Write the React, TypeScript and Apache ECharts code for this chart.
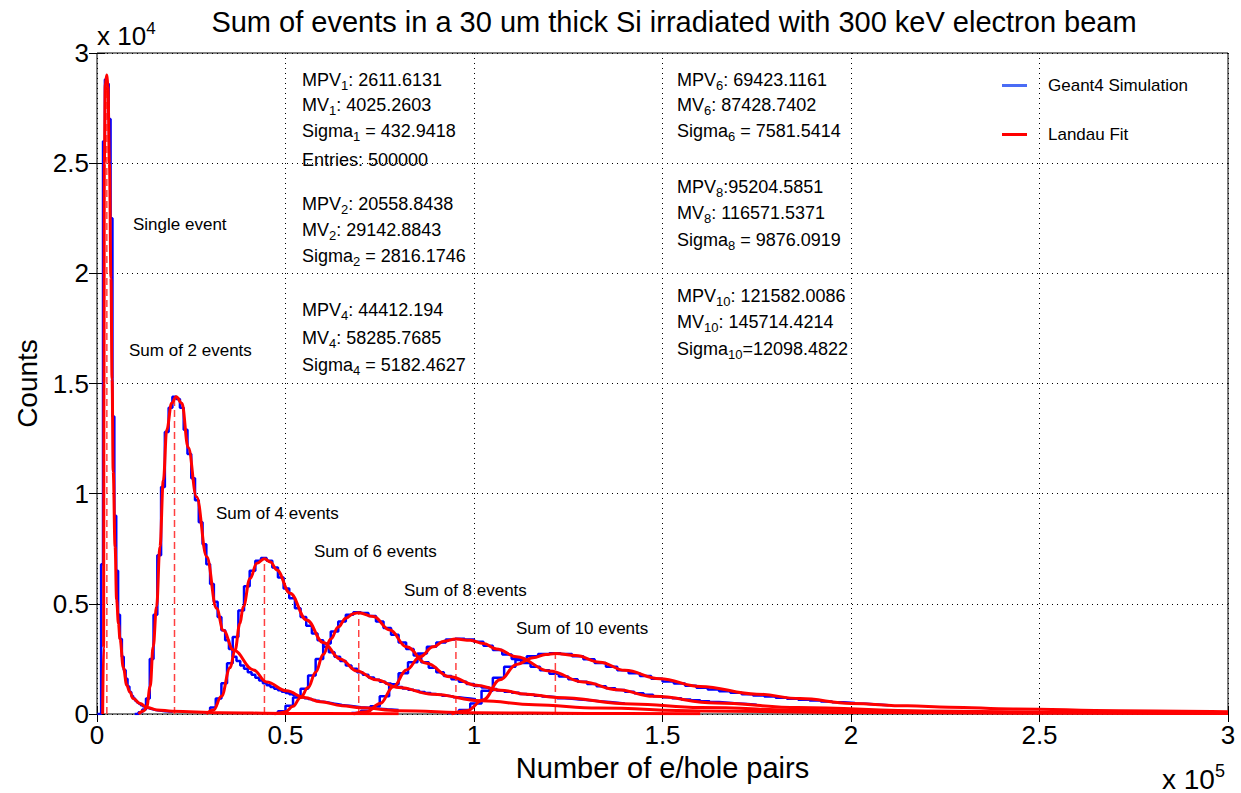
import React, { useEffect, useRef } from "react";
import * as echarts from "echarts";

// ---------- Tick labels ----------
const xTicks = ["0", "0.5", "1", "1.5", "2", "2.5", "3"];
const yTicks = ["0", "0.5", "1", "1.5", "2", "2.5", "3"];

// ---------- Landau fits (x = e/hole pairs, y = counts) ----------
const fit1: [number, number][] = [
  [1500, 0], [1750, 3000], [1850, 15000], [1950, 25000], [2200, 28600], [2611, 29000],
  [2900, 28500], [3300, 25000], [3700, 19800], [4000, 15200], [4300, 11000], [4800, 7600],
  [5200, 5200], [5700, 4100], [6100, 3400], [7000, 2100], [7900, 1300], [8700, 1000], [9600, 700],
  [11400, 480], [13200, 300], [16000, 180], [20000, 130], [32600, 60], [50000, 25], [80000, 8],
];
const fit2: [number, number][] = [
  [11000, 0], [12500, 150], [13200, 330], [14100, 1240], [14900, 3050], [15800, 4870], [16700, 7600],
  [17600, 10600], [18500, 12900], [19800, 14100], [21000, 14400], [22500, 14100], [24200, 12100],
  [26400, 9860], [29100, 7140], [31700, 4800], [33500, 3800], [36200, 2900], [41500, 2000],
  [45000, 1450], [50300, 1050], [55000, 750], [59200, 560], [65000, 380], [70000, 280], [80000, 150],
  [100000, 60], [130000, 20], [160000, 8],
];
const fit4: [number, number][] = [
  [29000, 0], [30900, 180], [33000, 800], [35300, 2100], [36600, 2900], [37900, 4100], [38800, 4870],
  [40600, 6150], [42400, 6840], [44400, 7050], [46000, 6900], [47700, 6540], [51200, 5480],
  [55600, 4270], [60000, 3250], [64500, 2500], [69000, 1950], [74000, 1550], [80000, 1200],
  [89000, 900], [102000, 600], [116000, 420], [133000, 270], [160000, 140], [200000, 70],
  [250000, 35], [300000, 20],
];
const fit6: [number, number][] = [
  [47000, 0], [48500, 50], [50000, 100], [52000, 350], [54000, 750], [56000, 1200], [58000, 1900],
  [60000, 2700], [62000, 3400], [64000, 3950], [66000, 4350], [68000, 4550], [69400, 4600],
  [73300, 4420], [77700, 3810], [82100, 3050], [87400, 2300], [93600, 1690], [100700, 1300],
  [107000, 1080], [114000, 900], [122000, 750], [142000, 450], [160000, 290], [190000, 160],
  [230000, 80], [300000, 35],
];
const fit8: [number, number][] = [
  [68000, 0], [71500, 100], [75100, 480], [78600, 1240], [82100, 2000], [85700, 2600], [89200, 3050],
  [92000, 3300], [95200, 3400], [99000, 3350], [102500, 3200], [106000, 2950], [111300, 2600],
  [120000, 1950], [129000, 1450], [138000, 1100], [147600, 800], [164000, 500], [186000, 290],
  [220000, 140], [260000, 65], [300000, 35],
];
const fit10: [number, number][] = [
  [94000, 0], [98100, 150], [102500, 650], [106900, 1550], [111300, 2250], [115700, 2550],
  [119000, 2700], [121600, 2750], [127000, 2650], [133400, 2350], [140000, 1980], [149300, 1600],
  [160000, 1250], [175000, 900], [186500, 700], [200000, 480], [215000, 370], [226000, 310],
  [243000, 230], [271000, 150], [300000, 100],
];

// ---------- Geant4 histograms (bin start, bin width, counts) ----------
const hist1Start = 100;
const hist1Width = 500;
const hist1Counts = [
  0, 0, 6800, 26000, 28800, 28600, 27000, 22500, 13500, 9000, 6500, 4500, 3400, 2600, 2000, 1600,
  1250, 1000, 820, 700, 600, 520, 460, 400, 350, 310, 280, 250, 220, 200, 180, 170, 160, 150, 140,
  130, 120, 115, 110, 100,
];
const hist2Start = 10000;
const hist2Width = 1000;
const hist2Counts = [
  0, 80, 200, 700, 2500, 4500, 7200, 10300, 12800, 13900, 14400, 14300, 13900, 12900, 11800, 10700,
  9700, 8700, 7700, 6800, 5900, 5100, 4400, 3800, 3350, 2950, 2600, 2400, 2200, 2050, 1900, 1780,
  1650, 1520, 1400, 1300, 1220, 1150, 1080, 1010, 950, 900, 850, 800, 760, 720, 680, 640, 600, 560,
  530, 500, 470, 440, 410, 390, 370, 350, 330, 310, 295, 280, 265, 250, 240, 230, 215, 205, 195, 185,
];
const hist4Start = 28500;
const hist4Width = 1500;
const hist4Counts = [
  60, 300, 700, 1400, 2300, 3500, 4700, 5800, 6500, 6950, 7080, 6950, 6650, 6200, 5700, 5250, 4800,
  4400, 4000, 3650, 3350, 3050, 2800, 2600, 2400, 2200, 2050, 1900, 1780, 1660, 1560, 1460, 1380,
  1300, 1230, 1160, 1100, 1050, 1000, 950, 910, 870, 830, 800, 760, 730, 700, 670,
];
const hist6Start = 46000;
const hist6Width = 2000;
const hist6Counts = [
  30, 120, 380, 750, 1150, 1750, 2500, 3200, 3750, 4200, 4500, 4620, 4580, 4450, 4200, 3900, 3600,
  3250, 2950, 2650, 2350, 2100, 1900, 1720, 1580, 1460, 1360, 1270, 1200, 1130, 1070, 1010, 960,
  910, 870, 830, 790, 760, 720, 690, 660, 630, 600, 570, 540, 510, 480,
];
const hist8Start = 67500;
const hist8Width = 2500;
const hist8Counts = [
  40, 150, 350, 800, 1350, 1850, 2350, 2750, 3050, 3250, 3380, 3420, 3380, 3280, 3100, 2900, 2700,
  2500, 2320, 2150, 1980, 1830, 1700, 1580, 1460, 1360, 1260, 1170, 1090, 1010, 940, 870, 810, 760,
  710, 660, 620, 580, 540, 510, 480, 450, 420,
];
const hist10Start = 93000;
const hist10Width = 3000;
const hist10Counts = [
  40, 180, 480, 1050, 1650, 2150, 2450, 2620, 2720, 2760, 2720, 2620, 2480, 2320, 2150, 1990, 1850,
  1720, 1600, 1480, 1380, 1280, 1190, 1110, 1030, 960, 900, 840, 790, 740, 690, 650, 610, 570, 530,
  500, 460, 430, 400,
];

// ---------- Fit parameters ----------
const mpvs = [2611.6131, 20558.8438, 44412.194, 69423.1161, 95204.5851, 121582.0086];
const mpvPeaks = [29000, 14400, 7050, 4600, 3400, 2750];

const FONT = "'Liberation Sans', Arial, Helvetica, sans-serif";
const BLUE = "#0000ff";
const RED = "#ff0000";

function histData(start: number, width: number, counts: number[]) {
  const d: [number, number][] = counts.map((c, i) => [start + i * width, c]);
  d.push([start + counts.length * width, counts[counts.length - 1]]);
  return d;
}

function annot(x: number, y: number, text: string, size = 18) {
  return {
    type: "text",
    x,
    y,
    style: {
      text,
      font: `${size}px ${FONT}`,
      fill: "#000",
      verticalAlign: "middle",
      rich: {
        s: { fontSize: 13, fontFamily: FONT, color: "#000", padding: [11, 0, 0, 0] },
      },
    },
  };
}

export default function App() {
  const ref = useRef<HTMLDivElement>(null);
  useEffect(() => {
    if (!ref.current) return;
    const chart = echarts.init(ref.current, null, { renderer: "svg" });

    const hists = [
      histData(hist1Start, hist1Width, hist1Counts),
      histData(hist2Start, hist2Width, hist2Counts),
      histData(hist4Start, hist4Width, hist4Counts),
      histData(hist6Start, hist6Width, hist6Counts),
      histData(hist8Start, hist8Width, hist8Counts),
      histData(hist10Start, hist10Width, hist10Counts),
    ];
    const fits = [fit1, fit2, fit4, fit6, fit8, fit10];

    const series: any[] = [];
    hists.forEach((h) =>
      series.push({
        name: "Geant4 Simulation",
        type: "line",
        step: "end",
        data: h,
        showSymbol: false,
        symbol: "none",
        lineStyle: { color: BLUE, width: 2.5 },
        itemStyle: { color: "#4a6cf5" },
        z: 2,
      })
    );
    mpvs.forEach((m, i) =>
      series.push({
        name: "mpv" + i,
        type: "line",
        data: [
          [m, 0],
          [m, mpvPeaks[i]],
        ],
        symbol: "none",
        lineStyle: { color: "#ff4040", width: 1.5, type: [7, 4] },
        z: 3,
      })
    );
    fits.forEach((f) =>
      series.push({
        name: "Landau Fit",
        type: "line",
        data: f,
        smooth: 0.4,
        smoothMonotone: "x",
        symbol: "none",
        lineStyle: { color: RED, width: 3 },
        itemStyle: { color: RED },
        z: 4,
      })
    );

    const axisLabelStyle = { color: "#000", fontSize: 26, fontFamily: FONT };
    const split = { show: true, lineStyle: { color: "#000", width: 1, type: [1, 4] } };
    const tick = { show: true, inside: true, length: 8, lineStyle: { color: "#000" } };

    chart.setOption({
      animation: false,
      backgroundColor: "#fff",
      grid: {
        left: 97,
        top: 53,
        right: 13,
        bottom: 79,
        show: true,
        borderColor: "#000",
        borderWidth: 1,
        backgroundColor: "transparent",
      },
      legend: {
        data: ["Geant4 Simulation", "Landau Fit"],
        orient: "vertical",
        left: 997,
        top: 72,
        itemGap: 32,
        itemWidth: 25,
        itemHeight: 3,
        icon: "rect",
        textStyle: { color: "#000", fontSize: 17, fontFamily: FONT, padding: [0, 0, 0, 16] },
        selectedMode: false,
      },
      xAxis: [
        {
          type: "value",
          min: 0,
          max: 300000,
          interval: 50000,
          axisLine: { show: false },
          axisTick: tick,
          axisLabel: {
            ...axisLabelStyle,
            margin: 8,
            formatter: (v: number) => xTicks[Math.round(v / 50000)] ?? "",
          },
          splitLine: split,
          name: "Number of e/hole pairs",
          nameLocation: "middle",
          nameGap: 39,
          nameTextStyle: { color: "#000", fontSize: 29, fontFamily: FONT },
        },
        {
          type: "value",
          position: "top",
          min: 0,
          max: 300000,
          interval: 50000,
          axisLine: { show: false },
          axisTick: tick,
          axisLabel: { show: false },
          splitLine: { show: false },
        },
      ],
      yAxis: [
        {
          type: "value",
          min: 0,
          max: 30000,
          interval: 5000,
          axisLine: { show: false },
          axisTick: tick,
          axisLabel: {
            ...axisLabelStyle,
            margin: 8,
            formatter: (v: number) => yTicks[Math.round(v / 5000)] ?? "",
          },
          splitLine: split,
          name: "Counts",
          nameLocation: "middle",
          nameGap: 53,
          nameRotate: 90,
          nameTextStyle: { color: "#000", fontSize: 28, fontFamily: FONT },
        },
        {
          type: "value",
          position: "right",
          min: 0,
          max: 30000,
          interval: 5000,
          axisLine: { show: false },
          axisTick: tick,
          axisLabel: { show: false },
          splitLine: { show: false },
        },
      ],
      graphic: [
        {
          type: "text",
          x: 674,
          y: 22,
          style: {
            text: "Sum of events in a 30 um thick Si irradiated with 300 keV electron beam",
            font: `29px ${FONT}`,
            fill: "#000",
            align: "center",
            verticalAlign: "middle",
          },
        },
        {
          type: "text",
          x: 97,
          y: 36,
          style: {
            text: "x 10{p|4}",
            font: `26px ${FONT}`,
            fill: "#000",
            verticalAlign: "middle",
            rich: { p: { fontSize: 17, fontFamily: FONT, color: "#000", padding: [0, 0, 16, 0] } },
          },
        },
        {
          type: "text",
          x: 1162,
          y: 779,
          style: {
            text: "x 10{p|5}",
            font: `28px ${FONT}`,
            fill: "#000",
            verticalAlign: "middle",
            rich: { p: { fontSize: 18, fontFamily: FONT, color: "#000", padding: [0, 0, 17, 0] } },
          },
        },
        annot(302, 80, "MPV{s|1}: 2611.6131"),
        annot(302, 105, "MV{s|1}: 4025.2603"),
        annot(302, 131, "Sigma{s|1} = 432.9418"),
        annot(302, 160, "Entries: 500000"),
        annot(302, 204, "MPV{s|2}: 20558.8438"),
        annot(302, 230, "MV{s|2}: 29142.8843"),
        annot(302, 256, "Sigma{s|2} = 2816.1746"),
        annot(302, 310, "MPV{s|4}: 44412.194"),
        annot(302, 338, "MV{s|4}: 58285.7685"),
        annot(302, 365, "Sigma{s|4} = 5182.4627"),
        annot(677, 80, "MPV{s|6}: 69423.1161"),
        annot(677, 105, "MV{s|6}: 87428.7402"),
        annot(677, 131, "Sigma{s|6} = 7581.5414"),
        annot(677, 187, "MPV{s|8}:95204.5851"),
        annot(677, 213, "MV{s|8}: 116571.5371"),
        annot(677, 240, "Sigma{s|8} = 9876.0919"),
        annot(677, 296, "MPV{s|10}: 121582.0086"),
        annot(677, 322, "MV{s|10}: 145714.4214"),
        annot(677, 349, "Sigma{s|10}=12098.4822"),
        annot(133, 224, "Single event", 17),
        annot(129, 350, "Sum of 2 events", 17),
        annot(216, 513, "Sum of 4 events", 17),
        annot(314, 551, "Sum of 6 events", 17),
        annot(404, 590, "Sum of 8 events", 17),
        annot(516, 628, "Sum of 10 events", 17),
      ],
      series,
    });
    return () => chart.dispose();
  }, []);
  return (
    <div
      ref={ref}
      style={{ position: "absolute", left: 0, top: 0, width: 1241, height: 793, background: "#fff" }}
    />
  );
}
